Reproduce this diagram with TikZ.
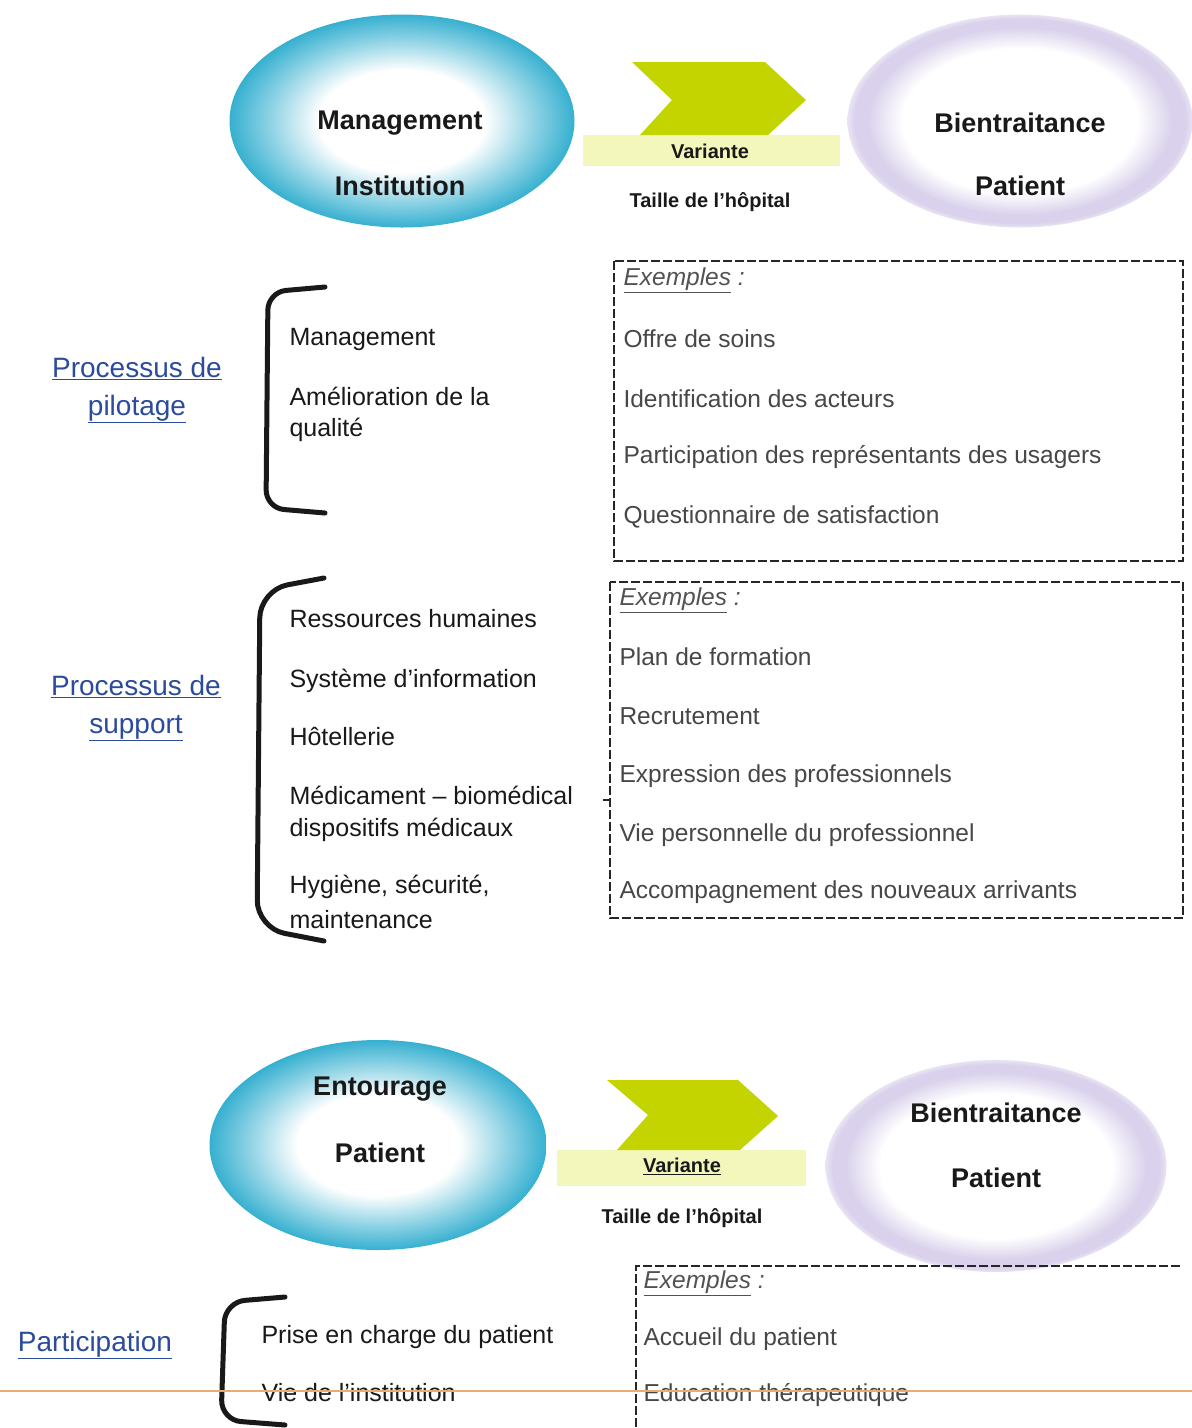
\documentclass[tikz,border=0pt]{standalone}
\usepackage{fontspec}
\setmainfont{Liberation Sans}
\usetikzlibrary{shapes.geometric}
\definecolor{cyanedge}{HTML}{36B0D0}
\definecolor{lavedge}{HTML}{DAD2EC}
\definecolor{chev}{HTML}{C4D400}
\definecolor{bandc}{HTML}{F4F7BC}
\definecolor{blueT}{HTML}{2B4C9B}
\definecolor{orangeL}{HTML}{E9AD72}
\pgfdeclareradialshading{cyanglow}{\pgfpoint{0bp}{0bp}}{color(0bp)=(white); color(12bp)=(white); color(19bp)=(cyanedge!55); color(25bp)=(cyanedge); color(50bp)=(cyanedge)}
\pgfdeclareradialshading{lavglow}{\pgfpoint{0bp}{0bp}}{color(0bp)=(white); color(17bp)=(white); color(22bp)=(lavedge); color(24bp)=(lavedge); color(25bp)=(lavedge!60); color(50bp)=(white)}
\begin{document}
\begin{tikzpicture}[x=1pt,y=-1pt,
  cyanell/.style={ellipse, shading=cyanglow, inner sep=0pt},
  lavell/.style={ellipse, shading=lavglow, inner sep=0pt},
  elltext/.style={font=\fontsize{27}{30}\selectfont\bfseries, text=black!90},
  varlbl/.style={font=\fontsize{20}{22}\selectfont\bfseries, text=black!90},
  bluelbl/.style={font=\fontsize{28}{38}\selectfont, text=blueT, align=center},
  lbl/.style={anchor=west, font=\fontsize{25}{28}\selectfont, text=black!90},
  extext/.style={anchor=west, font=\fontsize{24.5}{28}\selectfont, text=black!72},
  exhead/.style={anchor=west, font=\fontsize{24.5}{28}\selectfont\itshape, text=black!68},
  brk/.style={line width=5pt, black!90, line cap=round},
  dbox/.style={line width=2pt, black!85, dash pattern=on 9pt off 3pt},
  chevfill/.style={fill=chev, draw=none},
  bandfill/.style={fill=bandc, draw=none}
]
\useasboundingbox (0,0) rectangle (1192,1428);
\fill[white] (0,0) rectangle (1192,1428);

% ---------- top row ----------
\node[cyanell, minimum width=345pt, minimum height=213pt] (ell1) at (402,121) {};
\node[elltext] (t1a) at (400,123) {Management};
\node[elltext] (t1b) at (400,186) {Institution};

\fill[bandfill] (583,135) rectangle (840,166);
\fill[chevfill] (632,62) -- (765,62) -- (806,100) -- (768,135) -- (640,135) -- (672,100) -- cycle;
\node[varlbl] (var1) at (710,151) {Variante};
\node[varlbl] (taille1) at (710,202) {Taille de l'hôpital};

\node[lavell, minimum width=345pt, minimum height=213pt] (ell2) at (1020,121) {};
\node[elltext] (t2a) at (1020,123) {Bientraitance};
\node[elltext] (t2b) at (1020,186) {Patient};

% ---------- pilotage ----------
\node[bluelbl] (pilot) at (137,390) {\underline{Processus de}\\\underline{pilotage}};
\draw[brk, rounded corners=18pt] (325,287) -- (268,292) -- (266,508) -- (325,513);
\node[lbl] (p1) at (286,339) {Management};
\node[lbl] (p2) at (286,396) {Amélioration de la};
\node[lbl] (p3) at (286,430) {qualité};

\draw[dbox] (614,261) rectangle (1183,561);
\node[exhead] (e1h) at (620,280) {\underline{Exemples} :};
\node[extext] (e11) at (620,339) {Offre de soins};
\node[extext] (e12) at (620,399) {Identification des acteurs};
\node[extext] (e13) at (620,457) {Participation des représentants des usagers};
\node[extext] (e14) at (620,517) {Questionnaire de satisfaction};

% ---------- support ----------
\node[bluelbl] (supp) at (136,708) {\underline{Processus de}\\\underline{support}};
\draw[brk, rounded corners=28pt] (324,578) -- (260,590) -- (257,928) -- (324,941);
\node[lbl] (s1) at (286,619) {Ressources humaines};
\node[lbl] (s2) at (286,681) {Système d'information};
\node[lbl] (s3) at (286,737) {Hôtellerie};
\node[lbl] (s4) at (286,795) {Médicament – biomédical};
\node[lbl] (s5) at (286,830) {dispositifs médicaux};
\node[lbl] (s6) at (286,887) {Hygiène, sécurité,};
\node[lbl] (s7) at (286,920) {maintenance};

\draw[dbox] (610,582) rectangle (1183,918);
\coordinate (tickA) at (603,800);
\coordinate (tickB) at (611,800);
\draw[line width=2pt, black!85] (tickA) -- (tickB);
\node[exhead] (e2h) at (616,600) {\underline{Exemples} :};
\node[extext] (e21) at (616,657) {Plan de formation};
\node[extext] (e22) at (616,716) {Recrutement};
\node[extext] (e23) at (616,776) {Expression des professionnels};
\node[extext] (e24) at (616,835) {Vie personnelle du professionnel};
\node[extext] (e25) at (616,892) {Accompagnement des nouveaux arrivants};

% ---------- second row ----------
\node[cyanell, minimum width=337pt, minimum height=210pt] (ell3) at (378,1145) {};
\node[elltext] (t3a) at (380,1089) {Entourage};
\node[elltext] (t3b) at (380,1153) {Patient};

\fill[bandfill] (557,1150) rectangle (806,1186);
\fill[chevfill] (607,1080) -- (738,1080) -- (778,1116) -- (740,1150) -- (617,1150) -- (648,1115) -- cycle;
\node[varlbl] (var2) at (682,1166) {\underline{Variante}};
\node[varlbl] (taille2) at (682,1218) {Taille de l'hôpital};

\node[lavell, minimum width=341pt, minimum height=212pt] (ell4) at (996,1166) {};
\node[elltext] (t4a) at (996,1113) {Bientraitance};
\node[elltext] (t4b) at (996,1178) {Patient};

% ---------- participation ----------
\node[bluelbl] (part) at (95,1345) {\underline{Participation}};
\draw[brk, rounded corners=20pt] (285,1297) -- (225,1302) -- (221,1420) -- (285,1425);
\node[lbl] (q1) at (258,1337) {Prise en charge du patient};
\node[lbl] (q2) at (258,1393) {Vie de l'institution};

\draw[dbox] (1180,1266) -- (636,1266) -- (636,1428);
\node[exhead] (e3h) at (640,1283) {\underline{Exemples} :};
\node[extext] (e31) at (640,1339) {Accueil du patient};
\node[extext] (e32) at (640,1395) {Education thérapeutique};

\coordinate (olA) at (0,1391);
\coordinate (olB) at (1192,1391);
\draw[orangeL, line width=1.5pt] (olA) -- (olB);
\end{tikzpicture}
\end{document}
